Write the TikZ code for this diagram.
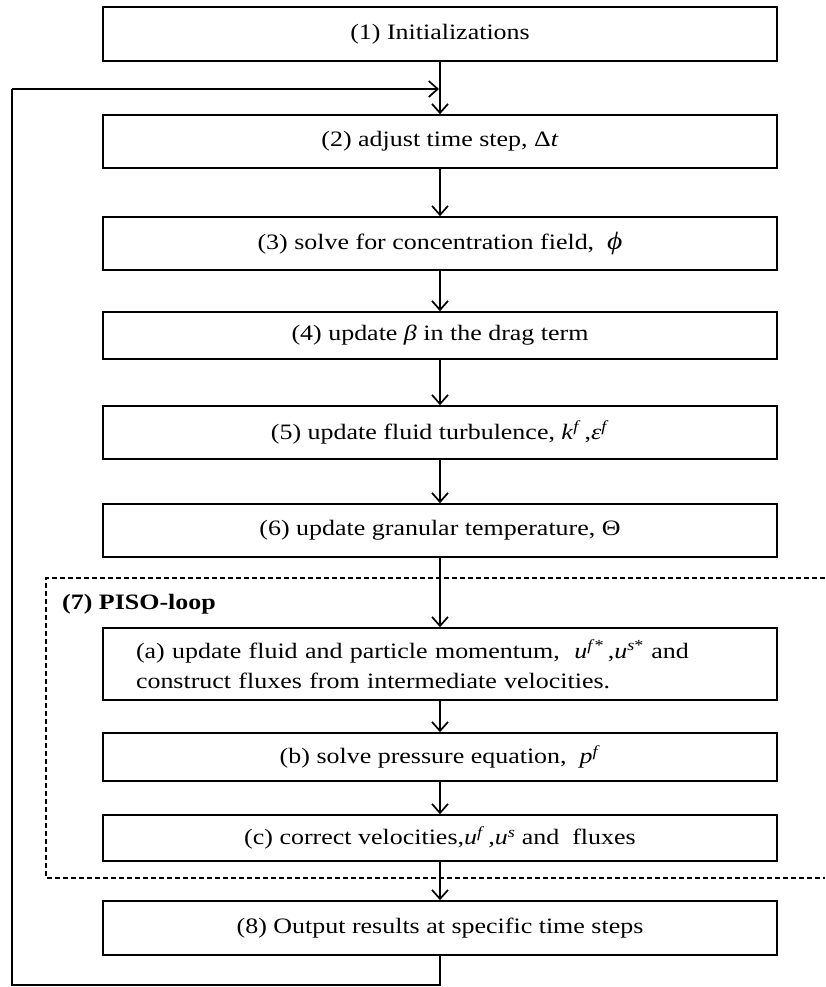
\documentclass[tikz,border=0pt]{standalone}
\usepackage{fontspec}
\setmainfont[FakeStretch=1.18]{Liberation Serif}
\usetikzlibrary{arrows.meta}
\begin{document}
\begin{tikzpicture}[x=1pt,y=-1pt,
  box/.style={draw, line width=1.6pt, minimum width=674pt, inner sep=0pt,
    font=\fontsize{22}{30}\selectfont, align=center},
  flow/.style={line width=1.3pt, -{Straight Barb[length=9pt,width=16pt,line width=1.7pt]}},
  wire/.style={line width=1.3pt},
  loopframe/.style={line width=1.2pt, dash pattern=on 5pt off 3pt},
  looptitle/.style={anchor=west, inner sep=0pt, font=\fontsize{22}{26}\selectfont\bfseries}]
\useasboundingbox (0,0) rectangle (825,987);
\fill[white] (0,0) rectangle (825,987);

\node[box, minimum height=54pt] (b1) at (440,34) {(1) Initializations};
\node[box, minimum height=53pt] (b2) at (440,141.5) {(2) adjust time step, Δ\textit{t}};
\node[box, minimum height=53pt] (b3) at (440,243.5) {(3) solve for concentration field,\ \ {\fontsize{25}{30}\selectfont\textit{ϕ}}};
\node[box, minimum height=47pt] (b4) at (440,335.5) {(4) update \textit{β} in the drag term};
\node[box, minimum height=53pt] (b5) at (440,432.5) {(5) update fluid turbulence, \textit{k}\textsuperscript{\textit{f}}\,,\textit{ε}\textsuperscript{\textit{f}}};
\node[box, minimum height=53pt] (b6) at (440,530.5) {(6) update granular temperature, Θ};

\draw[loopframe] (825,578) -- (46,578) -- (46,878) -- (825,878);
\node[looptitle] (pisotitle) at (62,604) {(7) PISO-loop};

\node[box, minimum height=72pt, text width=608pt, inner xsep=33pt, align=left] (ba) at (440,664)
  {(a) update fluid and particle momentum,\ \ \textit{u}\textsuperscript{\textit{f}*}\,,\textit{u}\textsuperscript{\textit{s}*} and\\
   construct fluxes from intermediate velocities.};
\node[box, minimum height=48pt] (bb) at (440,757) {(b) solve pressure equation,\ \ \textit{p}\textsuperscript{\textit{f}}};
\node[box, minimum height=46pt] (bc) at (440,838) {(c) correct velocities,\textit{u}\textsuperscript{\textit{f}}\,,\textit{u}\textsuperscript{\textit{s}} and\ \ fluxes};
\node[box, minimum height=54pt] (b8) at (440,928) {(8) Output results at specific time steps};

\coordinate (merge) at (440,89);
\coordinate (cornerbr) at (440,985);
\coordinate (cornerbl) at (12,985);
\coordinate (cornertl) at (12,89);

\draw[flow] (b1) -- (b2);
\draw[flow] (b2) -- (b3);
\draw[flow] (b3) -- (b4);
\draw[flow] (b4) -- (b5);
\draw[flow] (b5) -- (b6);
\draw[flow] (b6) -- (ba);
\draw[flow] (ba) -- (bb);
\draw[flow] (bb) -- (bc);
\draw[flow] (bc) -- (b8);
\draw[wire] (b8.south) -- (cornerbr) -- (cornerbl) -- (cornertl);
\draw[flow, shorten >=1pt] (cornertl) -- (merge);
\end{tikzpicture}
\end{document}
